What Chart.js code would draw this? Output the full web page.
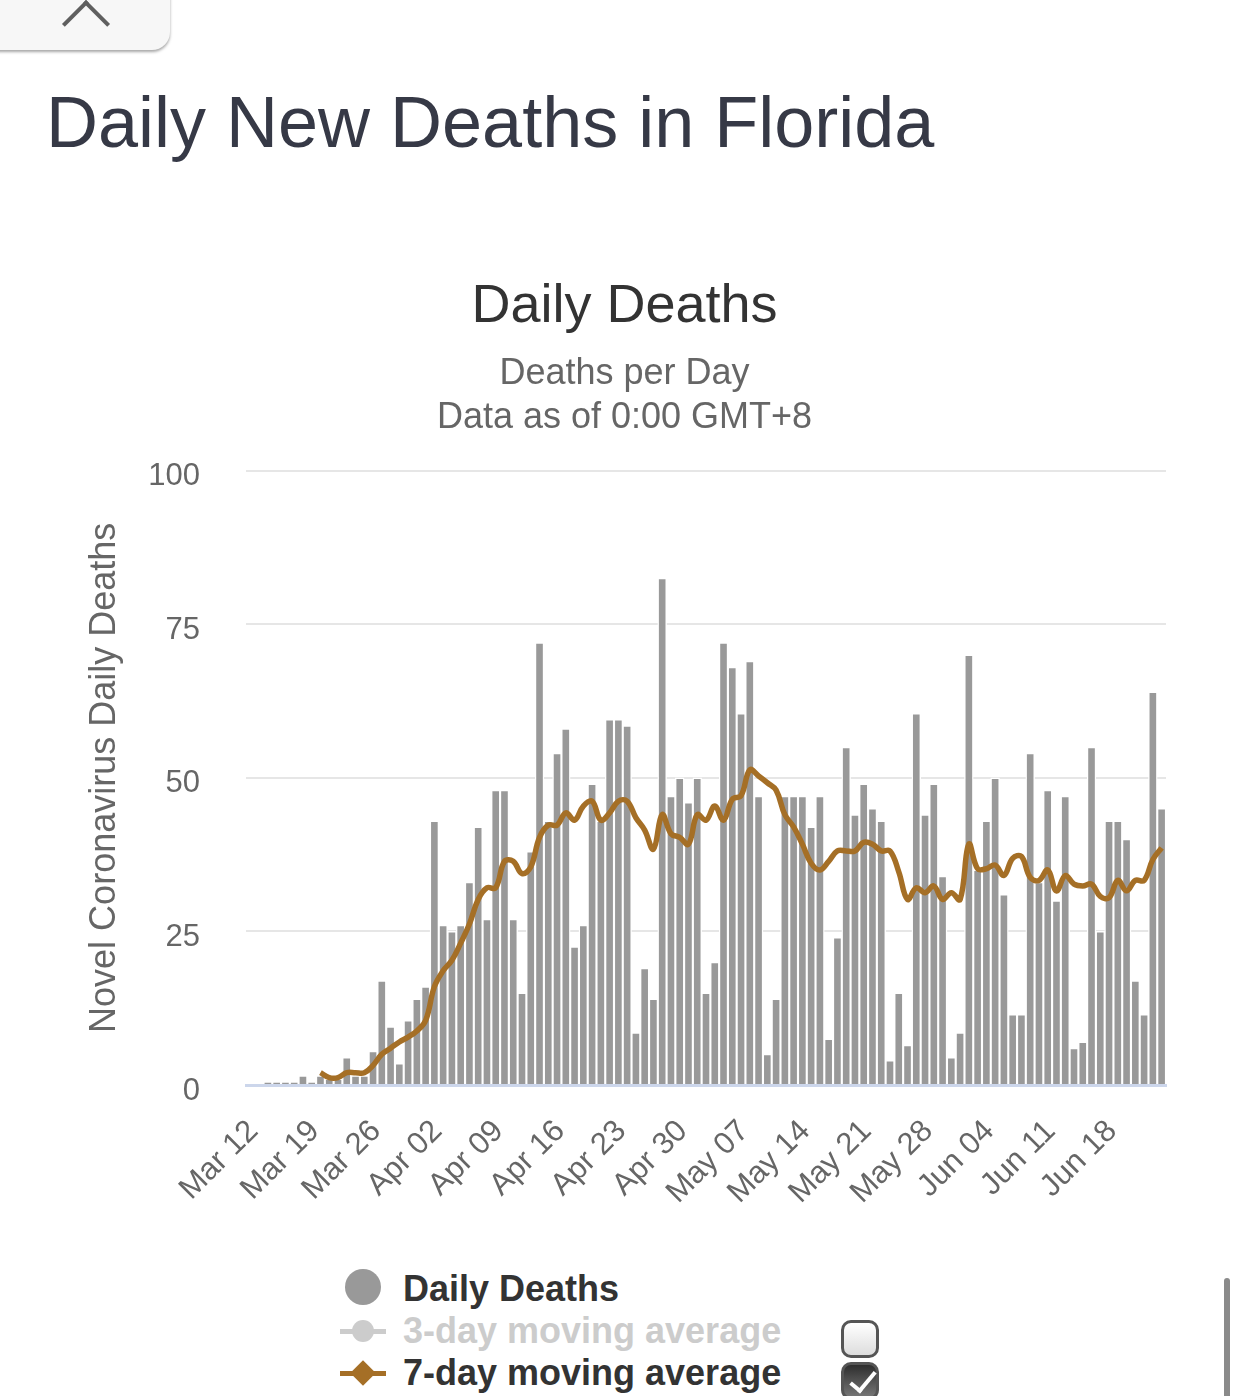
<!DOCTYPE html>
<html>
<head>
<meta charset="utf-8">
<script src="https://cdn.jsdelivr.net/npm/chart.js@4"></script>
<style>
  body { margin: 0; background: #fff; width: 1242px; height: 1396px; overflow: hidden; position: relative;
         font-family: "Liberation Sans", Arial, sans-serif; }
  .tab { position: absolute; left: -20px; top: -30px; width: 190px; height: 80px; background: #f7f7f7;
         border-radius: 18px; box-shadow: 0 2px 3px rgba(0,0,0,0.35); }
  .chev { position: absolute; left: 69px; top: 7px; width: 30px; height: 30px;
          border-top: 4px solid #5f5f5f; border-left: 4px solid #5f5f5f; transform: rotate(45deg); }
  h1 { position: absolute; left: 46px; top: 86px; margin: 0; font-size: 72px; line-height: 72px;
       font-weight: normal; color: #363946; white-space: nowrap; }
  #wrap { position: absolute; left: 0; top: 250px; }
  .lg { position: absolute; font-size: 36px; line-height: 36px; font-weight: bold; white-space: nowrap; }
  .dot { position: absolute; border-radius: 50%; }
  .bar { position: absolute; height: 5px; }
  .box { position: absolute; left: 841px; width: 32px; height: 32px; border: 3px solid #555; border-radius: 10px; }
  .scroll { position: absolute; left: 1224px; top: 1278px; width: 6px; height: 130px; background: #8a8a8a; border-radius: 3px; }
</style>
</head>
<body>
<div class="tab"></div>
<div class="chev"></div>
<h1>Daily New Deaths in Florida</h1>
<div id="wrap"><canvas id="myChart" width="1242" height="955"></canvas></div>

<div class="dot" style="left:345px;top:1269px;width:36px;height:36px;background:#999;"></div>
<div class="lg" style="left:403px;top:1271px;color:#333;">Daily Deaths</div>

<div class="bar" style="left:340px;top:1329px;width:46px;background:#ccc;"></div>
<div class="dot" style="left:352px;top:1320px;width:22px;height:22px;background:#ccc;"></div>
<div class="lg" style="left:403px;top:1313px;color:#ccc;">3-day moving average</div>
<div class="box" style="top:1320px;background:linear-gradient(#fff,#ddd);"></div>

<div class="bar" style="left:340px;top:1371px;width:46px;background:#a56f26;"></div>
<div style="position:absolute;left:354px;top:1364px;width:18px;height:18px;background:#a56f26;transform:rotate(45deg);"></div>
<div class="lg" style="left:403px;top:1355px;color:#333;">7-day moving average</div>
<div class="box" style="top:1362px;background:linear-gradient(#2e2e2e,#777);"></div>
<div style="position:absolute;left:856px;top:1366px;width:10px;height:22px;border-right:4px solid #fff;border-bottom:4px solid #fff;transform:rotate(40deg);"></div>
<div class="scroll"></div>

<script>
// days on the x axis start at Mar 12, 105 of them
const startDay = '2020-03-12';
const dayCount = 105;
const tickLabels = ['Mar 12', 'Mar 19', 'Mar 26', 'Apr 02', 'Apr 09', 'Apr 16', 'Apr 23', 'Apr 30',
    'May 07', 'May 14', 'May 21', 'May 28', 'Jun 04', 'Jun 11', 'Jun 18'];

const dailyDeaths = [null, null,
    0.5, 0.5, 0.5, 0.5, 1.5, 0.5, 1.5, 1, 1, 4.5,
    1.5, 1.5, 5.5, 17, 9.5, 3.5, 10.5, 14, 16, 43,
    26, 25, 26, 33, 42, 27, 48, 48, 27, 15,
    38, 72, 43, 54, 58, 22.5, 26, 49, 43, 59.5,
    59.5, 58.5, 8.5, 19, 14, 82.5, 47, 50, 46, 50,
    15, 20, 72, 68, 60.5, 69, 47, 5, 14, 47,
    47, 47, 42, 47, 7.5, 24, 55, 44, 49, 45,
    43, 4, 15, 6.5, 60.5, 44, 49, 34, 4.5, 8.5,
    70, 35, 43, 50, 31, 11.5, 11.5, 54, 33, 48,
    30, 47, 6, 7, 55, 25, 43, 43, 40, 17,
    11.5, 64, 45];

const sevenDayAvg = [null, null, null, null, null, null, null, null,
    2, 1.2, 1.2, 2, 2, 2, 3.2, 5, 6, 7,
    7.8, 8.8, 10.5, 16, 18.6, 20.3, 23.1, 26.2, 30.2, 32.1,
    32.1, 36.4, 36.4, 34.4, 35.5, 40.3, 42.3, 42.3, 44.3, 43.1,
    45.4, 46.2, 43.1, 44.3, 46.2, 46.2, 43.5, 41.5, 38.4, 44,
    40.9, 40.3, 39.2, 44, 43.1, 45.4, 43.1, 46.5, 47.1, 51.3,
    50.3, 49.2, 48, 44, 42, 39.2, 36.1, 35, 36.4, 38.1,
    38.1, 38.1, 39.5, 39.2, 38.1, 38.1, 34.7, 30.2, 32.1, 31.3,
    32.4, 30.2, 31.3, 30.2, 39.2, 35.2, 35.2, 35.8, 34.1, 36.9,
    37.2, 33.8, 33.3, 35, 31.6, 34.1, 32.7, 32.4, 32.7, 30.7,
    30.5, 33.3, 31.6, 33.3, 33.3, 36.7, 38.6];

const yTicks = [0, 25, 50, 75, 100];

const months = ['Jan', 'Feb', 'Mar', 'Apr', 'May', 'Jun', 'Jul'];
const days = [];
const d0 = new Date(startDay + 'T00:00:00Z');
for (let i = 0; i < dayCount; i++) {
    const d = new Date(d0.getTime() + i * 86400000);
    days.push(months[d.getUTCMonth()] + ' ' + String(d.getUTCDate()).padStart(2, '0'));
}

const font = '"Liberation Sans", Arial, sans-serif';
const ctx = document.getElementById('myChart');

new Chart(ctx, {
    type: 'bar',
    data: {
        labels: days,
        datasets: [{
            type: 'line',
            label: '7-day moving average',
            data: sevenDayAvg,
            borderColor: '#a56f26',
            borderWidth: 5.5,
            pointRadius: 0,
            tension: 0.4,
            fill: false,
            order: 0
        }, {
            label: 'Daily Deaths',
            data: dailyDeaths,
            backgroundColor: '#999999',
            borderColor: '#ffffff',
            borderWidth: 1.4,
            barPercentage: 1,
            categoryPercentage: 1,
            order: 1
        }]
    },
    options: {
        responsive: false,
        animation: false,
        layout: { padding: { left: 83, right: 76, top: 0, bottom: 0 } },
        plugins: {
            legend: { display: false },
            tooltip: { enabled: false },
            title: {
                display: true,
                text: 'Daily Deaths',
                color: '#333333',
                font: { family: font, size: 54, weight: 'normal' },
                padding: { top: 25, bottom: 12 }
            },
            subtitle: {
                display: true,
                text: ['Deaths per Day', 'Data as of 0:00 GMT+8'],
                color: '#666666',
                font: { family: font, size: 36, lineHeight: 1.22 },
                padding: { top: 0, bottom: 31 }
            }
        },
        scales: {
            x: {
                afterFit: (s) => { s.height = 120; },
                grid: { display: false, drawTicks: false },
                border: { display: true, color: '#ccd6eb', width: 3 },
                ticks: {
                    autoSkip: false,
                    minRotation: 45,
                    maxRotation: 45,
                    padding: 28,
                    labelOffset: 3,
                    color: '#666666',
                    font: { family: font, size: 31 },
                    callback: function (value, index) {
                        const lab = days[index];
                        return tickLabels.includes(lab) ? lab : '';
                    }
                }
            },
            y: {
                min: 0,
                max: 100,
                afterFit: (s) => { s.width = 163; },
                afterBuildTicks: (s) => { s.ticks = yTicks.map(v => ({ value: v })); },
                grid: { color: '#e6e6e6', lineWidth: 2, drawTicks: false },
                border: { display: false },
                ticks: {
                    padding: 46,
                    labelOffset: 6,
                    color: '#666666',
                    font: { family: font, size: 31 }
                },
                title: {
                    display: true,
                    text: 'Novel Coronavirus Daily Deaths',
                    color: '#666666',
                    font: { family: font, size: 36 },
                    padding: 0
                }
            }
        }
    }
});
</script>
</body>
</html>
